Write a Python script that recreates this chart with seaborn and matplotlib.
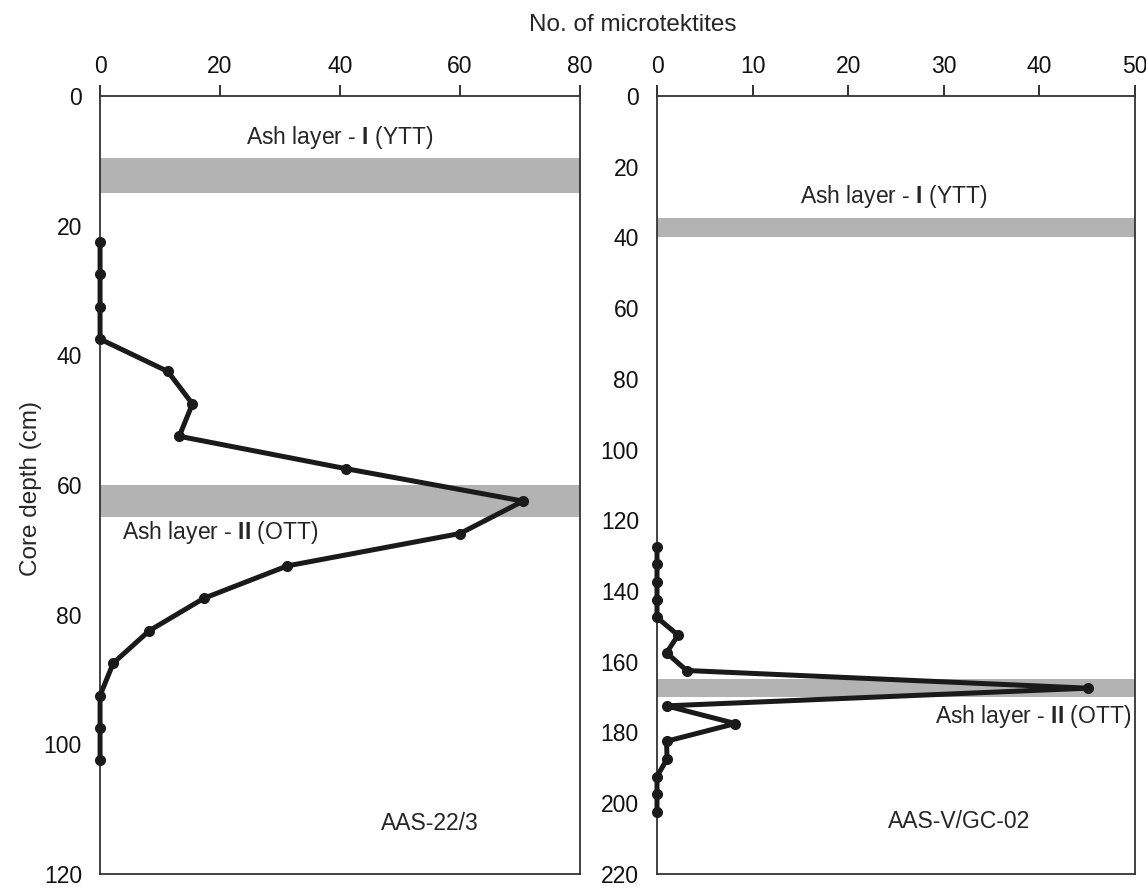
import matplotlib
matplotlib.use("Agg")
import matplotlib.pyplot as plt
import seaborn as sns
import pandas as pd

sns.set_theme(style="white")
plt.rcParams["font.family"] = ["Liberation Sans", "DejaVu Sans"]
plt.rcParams["mathtext.fontset"] = "custom"
plt.rcParams["mathtext.rm"] = "Liberation Sans"
plt.rcParams["mathtext.bf"] = "Liberation Sans:bold"

# AAS-22/3
depth_a = [22.5, 27.5, 32.5, 37.5, 42.5, 47.5, 52.5, 57.5, 62.5, 67.5,
           72.5, 77.5, 82.5, 87.5, 92.5, 97.5, 102.5]
count_a = [0, 0, 0, 0, 11.3, 15.4, 13.2, 41, 70.5, 60,
           31.2, 17.3, 8.2, 2.2, 0, 0, 0]
ash_a = [(9.5, 15), (60, 65)]

# AAS-V/GC-02
depth_b = [127.5, 132.5, 137.5, 142.5, 147.5, 152.5, 157.5, 162.5, 167.5,
           172.5, 177.5, 182.5, 187.5, 192.5, 197.5, 202.5]
count_b = [0, 0, 0, 0, 0, 2.2, 1.0, 3.1, 45.1,
           1.0, 8.2, 1.0, 1.05, 0, 0, 0]
ash_b = [(34.5, 40), (165, 170)]

FS = 16.5
LINE = "#1a1a1a"


def panel(ax, count, depth, ash, xmax, xstep, ymax, ystep):
    for top, bot in ash:
        ax.axhspan(top, bot, color="#b3b3b3", lw=0, zorder=0)
    df = pd.DataFrame({"count": count, "depth": depth})
    sns.lineplot(data=df, x="count", y="depth", sort=False, estimator=None,
                 ax=ax, color=LINE, lw=3.6, marker="o", markersize=8,
                 markeredgewidth=0, zorder=3, clip_on=False)
    ax.set_xlim(0, xmax)
    ax.set_ylim(ymax, 0)
    ax.set_xticks(range(0, xmax + 1, xstep))
    ax.set_yticks(range(0, ymax + 1, ystep))
    ax.xaxis.tick_top()
    ax.tick_params(axis="both", direction="out", length=8, width=1.3,
                   labelsize=FS, pad=5, color="#222222", labelcolor="#111111")
    for s in ax.spines.values():
        s.set_color("#333333")
        s.set_linewidth(1.3)
    ax.set_xlabel("")
    ax.set_ylabel("")


fig = plt.figure(figsize=(11.46, 8.88), dpi=100)
ax1 = fig.add_axes([0.0873, 0.016, 0.4188, 0.8759])
ax2 = fig.add_axes([0.5733, 0.016, 0.4171, 0.8759])

panel(ax1, count_a, depth_a, ash_a, 80, 20, 120, 20)
panel(ax2, count_b, depth_b, ash_b, 50, 10, 220, 20)

ax1.text(40, 6.4, r"Ash layer - $\mathbf{I}$ (YTT)", ha="center", va="center", fontsize=FS)
ax1.text(3.7, 67.3, r"Ash layer - $\mathbf{II}$ (OTT)", ha="left", va="center", fontsize=FS)
ax1.text(55, 112.3, "AAS-22/3", ha="center", va="center", fontsize=FS)

ax2.text(24.8, 28.3, r"Ash layer - $\mathbf{I}$ (YTT)", ha="center", va="center", fontsize=FS)
ax2.text(49.6, 175.6, r"Ash layer - $\mathbf{II}$ (OTT)", ha="right", va="center", fontsize=FS)
ax2.text(31.6, 205.3, "AAS-V/GC-02", ha="center", va="center", fontsize=FS)

fig.text(0.552, 0.972, "No. of microtektites", ha="center", va="center", fontsize=17.5)
fig.text(0.027, 0.45, "Core depth (cm)", ha="center", va="center",
         rotation=90, fontsize=17.5)

fig.savefig("out.png", dpi=100)
